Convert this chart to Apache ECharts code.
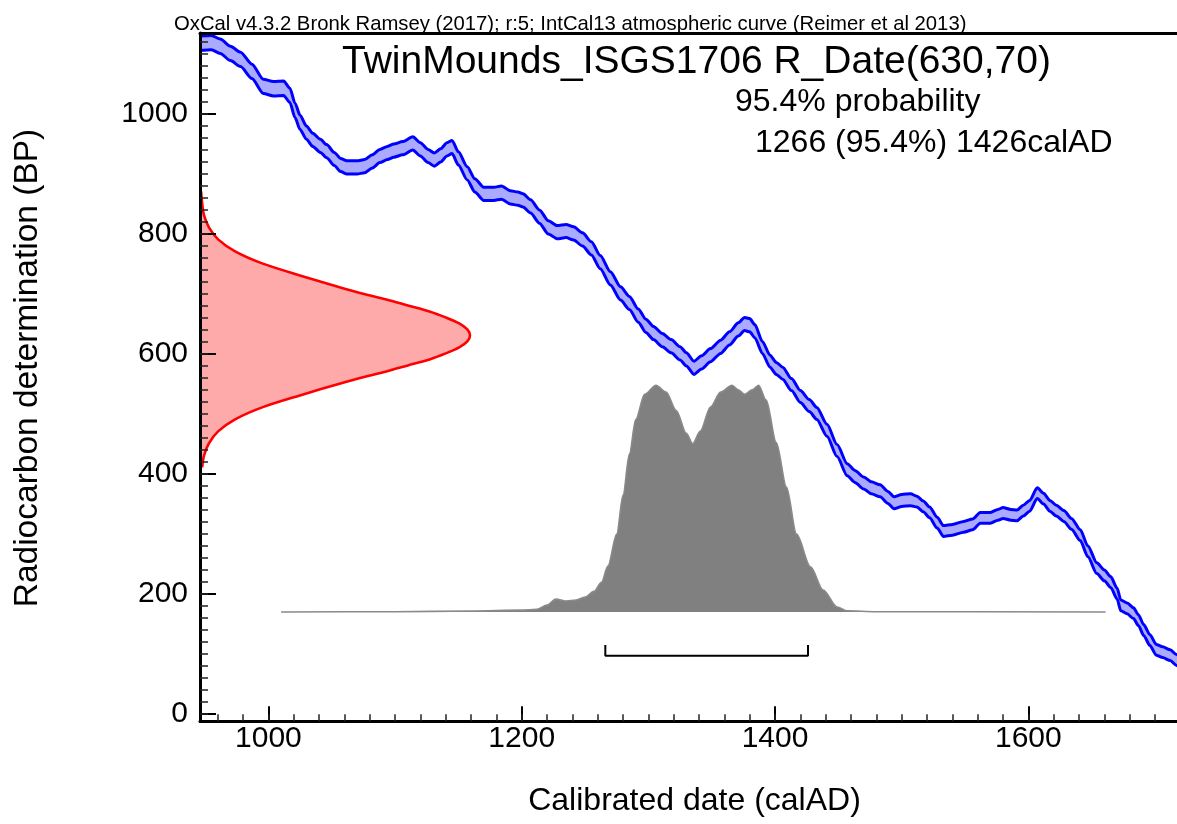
<!DOCTYPE html>
<html><head><meta charset="utf-8">
<script src="https://cdn.jsdelivr.net/npm/echarts@6/dist/echarts.min.js"></script>
<style>html,body{margin:0;padding:0;background:#fff;} #c{width:1177px;height:824px;}</style>
</head><body><div id="c"></div>
<script>
// ---- Calibration curve (IntCal13), cal AD vs radiocarbon BP ----
const calYears = [
  946, 955, 962, 970, 978, 987, 996, 1004, 1012, 1017,
  1021, 1025, 1030, 1035, 1041, 1046, 1052, 1057, 1062, 1070,
  1076, 1082, 1088, 1094, 1099, 1106, 1114, 1120, 1126, 1131,
  1136, 1141, 1145, 1150, 1157, 1163, 1170, 1178, 1184, 1191,
  1197, 1201, 1207, 1214, 1221, 1228, 1235, 1241, 1248, 1255,
  1262, 1270, 1278, 1285, 1292, 1298, 1304, 1311, 1318, 1325,
  1330, 1336, 1342, 1349, 1357, 1364, 1371, 1376, 1380, 1384,
  1390, 1396, 1401, 1406, 1413, 1420, 1427, 1433, 1441, 1449,
  1457, 1463, 1470, 1476, 1483, 1489, 1494, 1500, 1507, 1512,
  1517, 1522, 1528, 1533, 1540, 1549, 1556, 1562, 1570, 1576,
  1580, 1586, 1591, 1596, 1601, 1607, 1612, 1617, 1622, 1628,
  1634, 1641, 1647, 1654, 1660, 1665, 1670, 1673, 1678, 1683,
  1687, 1691, 1696, 1701, 1706, 1712, 1717, 1722, 1730
];
const curveBP = [
  1117, 1118, 1112, 1100, 1090, 1070, 1045, 1041, 1042, 1030,
  1005, 985, 968, 956, 946, 937, 924, 914, 910, 910,
  912, 920, 929, 934, 938, 942, 950, 940, 929, 923,
  930, 940, 944, 925, 900, 880, 866, 866, 868, 860,
  858, 855, 845, 828, 810, 802, 804, 800, 790, 775,
  752, 725, 700, 684, 663, 646, 634, 622, 612, 600,
  590, 576, 585, 597, 611, 625, 640, 649, 647, 637,
  610, 587, 575, 567, 548, 528, 513, 500, 472, 438,
  406, 395, 384, 376, 371, 360, 351, 355, 356, 353,
  345, 335, 318, 304, 306, 311, 315, 326, 326, 331,
  334, 331, 330, 338, 346, 367, 358, 346, 338, 329,
  316, 297, 270, 242, 230, 219, 200, 180, 175, 167,
  155, 139, 122, 106, 102, 97, 89, 82, 76
];
const curveSigma = [
  12, 12, 12, 12, 12, 12, 12, 12, 12, 12,
  12, 12, 11, 11, 11, 11, 11, 11, 11, 11,
  11, 11, 11, 11, 11, 11, 11, 11, 11, 11,
  11, 11, 11, 11, 11, 11, 11, 11, 11, 11,
  11, 11, 11, 11, 11, 11, 11, 11, 11, 11,
  11, 11, 11, 11, 11, 11, 11, 11, 11, 11,
  11, 11, 11, 11, 11, 11, 11, 11, 11, 11,
  10, 10, 10, 10, 10, 10, 10, 10, 10, 10,
  10, 10, 10, 10, 10, 10, 10, 10, 10, 9,
  9, 9, 9, 9, 9, 9, 9, 9, 9, 9,
  9, 9, 9, 9, 9, 9, 9, 9, 9, 9,
  9, 9, 9, 9, 9, 9, 9, 9, 9, 9,
  9, 9, 9, 9, 9, 9, 9, 9, 9
];
// ---- Calibrated probability distribution (relative) ----
const distYears = [1010, 1100, 1160, 1200, 1212, 1220, 1227, 1235, 1243, 1250,
  1257, 1263, 1268, 1275, 1280, 1285, 1290, 1297, 1306, 1314,
  1322, 1330, 1335, 1341, 1349, 1357, 1366, 1371, 1376, 1382,
  1387, 1393, 1401, 1409, 1417, 1428, 1438, 1449, 1457, 1480, 1661];
const distProb = [0, 0.001, 0.004, 0.008, 0.012, 0.03, 0.056, 0.048, 0.052, 0.065,
  0.09, 0.13, 0.2, 0.34, 0.51, 0.69, 0.84, 0.95, 0.99, 0.96,
  0.88, 0.78, 0.735, 0.79, 0.895, 0.96, 0.99, 0.97, 0.95, 0.97,
  0.99, 0.925, 0.74, 0.546, 0.34, 0.197, 0.096, 0.022, 0.005, 0.001, 0];
// ---- Measured radiocarbon date R_Date(630,70) (relative) ----
const measBP = [870, 850, 830, 810, 790, 770, 750, 730, 710, 700,
  690, 680, 670, 660, 650, 640, 630, 620, 610, 600,
  590, 580, 570, 560, 550, 530, 510, 490, 470, 450, 430, 410];
const measProb = [0.004, 0.008, 0.015, 0.033, 0.067, 0.13, 0.23, 0.37, 0.52, 0.60,
  0.69, 0.77, 0.85, 0.91, 0.96, 0.99, 1.0, 0.99, 0.96, 0.91,
  0.85, 0.77, 0.69, 0.60, 0.52, 0.37, 0.23, 0.13, 0.067, 0.033, 0.015, 0.008];
// ---- 95.4% range ----
const rangeAD = [1266, 1426];
// ---- Ticks & texts ----
const xTickLabels = [1000, 1200, 1400, 1600];
const yTickLabels = [0, 200, 400, 600, 800, 1000];
const headerText = 'OxCal v4.3.2 Bronk Ramsey (2017); r:5; IntCal13 atmospheric curve (Reimer et al 2013)';
const titleText = 'TwinMounds_ISGS1706 R_Date(630,70)';
const probLines = ['95.4% probability', '1266 (95.4%) 1426calAD'];
const xName = 'Calibrated date (calAD)';
const yName = 'Radiocarbon determination (BP)';

const xMinor = []; for (let v = 960; v <= 1740; v += 20) xMinor.push(v);
const yMinor = []; for (let v = 0; v <= 1120; v += 20) yMinor.push(v);

const FONT = "'Liberation Sans', Arial, sans-serif";
const X_MIN = 946, X_MAX = 1746, Y_MIN = -13, Y_MAX = 1134;

const upper = calYears.map((y, i) => [y, curveBP[i] + curveSigma[i]]);
const lower = calYears.map((y, i) => [y, curveBP[i] - curveSigma[i]]);
const distData = distYears.map((y, i) => [y, distProb[i]]);
const bracketData = [[rangeAD[0], 114], [rangeAD[0], 96], [rangeAD[1], 96], [rangeAD[1], 114]];

const chart = echarts.init(document.getElementById('c'), null, { renderer: 'canvas' });

const hiddenAxis = { show: false, axisLine: { show: false, onZero: false }, axisTick: { show: false }, axisLabel: { show: false }, splitLine: { show: false } };
const plain = v => String(v);

const option = {
  animation: false,
  backgroundColor: '#ffffff',
  grid: { left: 200, top: 33, width: 1013.3, height: 688.2, outerBoundsMode: 'none', containLabel: false },
  xAxis: [
    { type: 'value', position: 'bottom', min: X_MIN, max: X_MAX, z: 10,
      axisLine: { show: true, onZero: false, lineStyle: { color: '#000', width: 3 } },
      axisTick: { show: true, inside: true, length: 15, customValues: xTickLabels, lineStyle: { color: '#000', width: 2 } },
      axisLabel: { show: true, customValues: xTickLabels, formatter: plain, margin: 3, color: '#000', fontSize: 30, fontFamily: FONT },
      splitLine: { show: false } },
    { type: 'value', position: 'bottom', min: X_MIN, max: X_MAX, z: 10,
      axisLine: { show: false, onZero: false },
      axisTick: { show: true, inside: true, length: 7, customValues: xMinor, lineStyle: { color: '#222', width: 1.5 } },
      axisLabel: { show: false }, splitLine: { show: false } },
    { type: 'value', position: 'top', min: X_MIN, max: X_MAX, z: 10,
      axisLine: { show: true, onZero: false, lineStyle: { color: '#000', width: 3 } },
      axisTick: { show: false }, axisLabel: { show: false }, splitLine: { show: false } },
    Object.assign({ type: 'value', min: 0, max: 3.753 }, hiddenAxis)
  ],
  yAxis: [
    { type: 'value', position: 'left', min: Y_MIN, max: Y_MAX, z: 10,
      axisLine: { show: true, onZero: false, lineStyle: { color: '#000', width: 3 } },
      axisTick: { show: true, inside: true, length: 16, customValues: yTickLabels, lineStyle: { color: '#000', width: 2 } },
      axisLabel: { show: true, customValues: yTickLabels, formatter: plain, margin: 12, color: '#000', fontSize: 30, fontFamily: FONT },
      splitLine: { show: false } },
    { type: 'value', position: 'left', min: Y_MIN, max: Y_MAX, z: 10,
      axisLine: { show: false, onZero: false },
      axisTick: { show: true, inside: true, length: 8, customValues: yMinor, lineStyle: { color: '#222', width: 1.5 } },
      axisLabel: { show: false }, splitLine: { show: false } },
    Object.assign({ type: 'value', min: -0.4769, max: 2.528 }, hiddenAxis)
  ],
  series: [
    { type: 'custom', name: 'band', xAxisIndex: 0, yAxisIndex: 0, clip: true, silent: true, z: 2,
      data: [[1000, 500]],
      renderItem: function (params, api) {
        if (params.dataIndex !== 0) return null;
        const pts = upper.map(p => api.coord(p)).concat(lower.slice().reverse().map(p => api.coord(p)));
        return { type: 'polygon', shape: { points: pts, smooth: 0.2 }, style: { fill: '#aaaaff' } };
      } },
    { type: 'line', name: 'upper', xAxisIndex: 0, yAxisIndex: 0, data: upper, symbol: 'none', z: 3,
      smooth: 0.25, smoothMonotone: 'x', lineStyle: { color: '#0000ff', width: 3 } },
    { type: 'line', name: 'lower', xAxisIndex: 0, yAxisIndex: 0, data: lower, symbol: 'none', z: 3,
      smooth: 0.25, smoothMonotone: 'x', lineStyle: { color: '#0000ff', width: 3 } },
    { type: 'custom', name: 'measured', xAxisIndex: 3, yAxisIndex: 0, clip: true, silent: true, z: 2,
      data: [[0.5, 630]],
      renderItem: function (params, api) {
        if (params.dataIndex !== 0) return null;
        const curve = measBP.map((b, i) => api.coord([measProb[i], b]));
        const poly = [api.coord([0, measBP[0]])].concat(curve, [api.coord([0, measBP[measBP.length - 1]])]);
        return { type: 'group', children: [
          { type: 'polygon', shape: { points: poly, smooth: 0.3 }, style: { fill: '#ffaaaa' } },
          { type: 'polyline', shape: { points: curve, smooth: 0.3 }, style: { stroke: '#ff0000', lineWidth: 2.6, fill: null } }
        ] };
      } },
    { type: 'line', name: 'calibrated', xAxisIndex: 0, yAxisIndex: 2, data: distData, symbol: 'none', z: 2,
      smooth: 0.3, smoothMonotone: 'x',
      lineStyle: { color: '#8a8a8a', width: 1.6 }, areaStyle: { color: '#808080', opacity: 1 } },
    { type: 'line', name: 'range', xAxisIndex: 0, yAxisIndex: 0, data: bracketData, symbol: 'none', z: 4,
      lineStyle: { color: '#000', width: 2 } }
  ],
  graphic: [
    { type: 'text', left: 174, top: 14, z: 20,
      style: { text: headerText, font: '20.3px ' + FONT, fill: '#000' } },
    { type: 'text', x: 342, y: 62.5, z: 20,
      style: { text: titleText, font: '39px ' + FONT, fill: '#000', textAlign: 'left', textVerticalAlign: 'middle', align: 'left', verticalAlign: 'middle' } },
    { type: 'text', x: 735, y: 101.7, z: 20,
      style: { text: probLines[0], font: '32px ' + FONT, fill: '#000', textAlign: 'left', textVerticalAlign: 'middle', align: 'left', verticalAlign: 'middle' } },
    { type: 'text', x: 755, y: 143.3, z: 20,
      style: { text: probLines[1], font: '32px ' + FONT, fill: '#000', textAlign: 'left', textVerticalAlign: 'middle', align: 'left', verticalAlign: 'middle' } },
    { type: 'text', x: 694.5, y: 801, z: 20,
      style: { text: xName, font: '32px ' + FONT, fill: '#000', textAlign: 'center', textVerticalAlign: 'middle', align: 'center', verticalAlign: 'middle' } },
    { type: 'text', x: 28, y: 368, rotation: Math.PI / 2, z: 20,
      style: { text: yName, font: '33.5px ' + FONT, fill: '#000', textAlign: 'center', textVerticalAlign: 'middle', align: 'center', verticalAlign: 'middle' } }
  ]
};
chart.setOption(option);
</script>
</body></html>
